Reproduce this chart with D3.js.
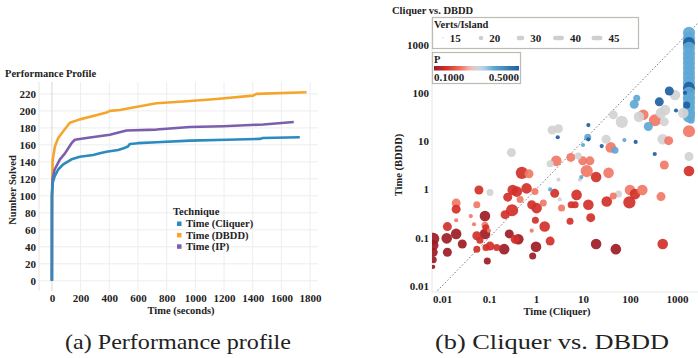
<!DOCTYPE html>
<html>
<head>
<meta charset="utf-8">
<script src="https://cdn.jsdelivr.net/npm/d3@7"></script>
<style>
  body { margin: 0; background: #fff; }
  svg text { font-family: 'Liberation Serif', serif; font-weight: bold; fill: #222; }
</style>
</head>
<body>
<svg id="chart" width="698" height="358"></svg>
<script>
// ---- (a) performance profile data ----
const cliquerTimes  = [0, 0.5, 5, 19, 44, 79, 137, 195, 288, 334, 381, 462, 500, 530, 543, 600, 729, 962, 1220, 1449, 1470, 1728];
const cliquerSolved = [0, 100, 115, 123, 131, 137, 143, 146, 148, 150, 152, 154, 156, 158, 161, 162, 163, 165, 166, 167, 168, 169];
const dbddTimes  = [0, 0.5, 5, 21, 44, 79, 125, 195, 288, 381, 404, 474, 567, 729, 915, 1147, 1403, 1426, 1775];
const dbddSolved = [0, 100, 142, 158, 168, 176, 186, 190, 194, 198, 200, 201, 204, 209, 211, 214, 218, 220, 222];
const ipTimes  = [0, 0.5, 5, 19, 56, 91, 137, 160, 241, 404, 520, 729, 962, 1194, 1473, 1686];
const ipSolved = [0, 100, 120, 131, 143, 150, 162, 166, 168, 172, 177, 178, 181, 182, 184, 187];
const techniques = ['Time (Cliquer)', 'Time (DBDD)', 'Time (IP)'];
const techColors = ['#2b8ac0', '#f6a52c', '#7b5fae'];
const profTicksX = [0, 200, 400, 600, 800, 1000, 1200, 1400, 1600, 1800];
const profTicksY = [0, 20, 40, 60, 80, 100, 120, 140, 160, 180, 200, 220];

// ---- (b) scatter data: Cliquer time, DBDD time, P, verts/island ----
const cliquerTime = [
  0.50, 0.71, 12, 35, 19, 1800, 0.061, 0.105, 0.25, 0.32,
  0.39, 0.63, 0.95, 2.0, 2.5, 3.0, 8.6, 9.2, 7.3, 3.2,
  0.46, 0.020, 0.020, 0.055, 0.81, 1.03, 1.43, 0.31, 0.22, 0.082,
  0.041, 0.020, 0.048, 0.082, 0.013, 0.086, 0.020, 0.0126, 0.027, 0.0065,
  0.013, 0.055, 0.064, 0.082, 0.10, 0.27, 0.42, 0.36, 0.055, 0.086,
  0.105, 0.146, 0.21, 0.092, 0.85, 1.0, 0.81, 0.97, 1.53, 2.0,
  3.5, 5.3, 5.6, 6.8, 13, 14.6, 19, 50, 32, 57,
  100, 128, 183, 97, 457, 497, 0.0065, 0.0065, 0.0065, 0.0065,
  0.30, 2.2, 3.0, 2.9, 2.7, 2.0, 5.5, 9.9, 14, 10,
  12.6, 13, 25, 31, 39, 48, 44, 67, 76, 132,
  192, 139, 123, 245, 340, 420, 457, 556, 537, 497,
  665, 336, 537, 686, 906, 952, 1480, 1360, 1800, 1800,
  1800, 1800, 1610, 2000, 155, 44, 13, 7.9,
  1800, 1800, 1800, 1800, 1800, 1800, 1800, 1800, 1800,
  1800, 1800, 1800, 1800, 1800, 1800, 1800, 1800, 1800
];
const dbddTime = [
  2.2, 2.1, 2.4, 2.2, 1.8, 2.4, 0.97, 0.86, 0.69, 0.97,
  0.90, 1.05, 0.90, 1.0, 0.83, 1.6, 1.6, 1.8, 0.77, 0.62,
  0.62, 0.52, 0.39, 0.48, 0.48, 0.41, 0.52, 0.37, 0.30, 0.28,
  0.28, 0.23, 0.19, 0.18, 0.17, 0.16, 0.12, 0.097, 0.074, 0.095,
  0.050, 0.11, 0.089, 0.12, 0.14, 0.12, 0.093, 0.093, 0.058, 0.063,
  0.067, 0.063, 0.058, 0.033, 0.042, 0.065, 0.14, 0.23, 0.17, 0.085,
  0.41, 0.22, 0.48, 0.48, 0.48, 0.26, 0.074, 0.058, 0.56, 0.80,
  0.97, 0.80, 0.97, 0.54, 0.71, 0.074, 0.07, 0.05, 0.035, 0.025,
  5.8, 17, 18, 12, 3.9, 3.4, 4.6, 3.9, 3.9, 8.3,
  12, 21.5, 7.9, 10.9, 7.4, 6.5, 35, 25, 10.5, 9.6,
  35, 77, 58, 20, 27, 65, 38, 44, 25, 10.9,
  10.2, 5.4, 3.2, 109, 90, 43, 100, 38, 39, 81,
  16, 4.8, 56, 27, 32, 0.73, 10.9, 4.9,
  1740, 1350, 1070, 850, 660, 525, 415, 325, 257,
  204, 160, 126, 100, 78, 62, 49, 38, 32
];
const pValue = [
  0.16, 0.23, 0.23, 0.23, 0.16, 0.16, 0.16, 0.30, 0.16, 0.16,
  0.16, 0.16, 0.23, 0.38, 0.16, 0.30, 0.30, 0.38, 0.16, 0.30,
  0.23, 0.23, 0.16, 0.23, 0.16, 0.16, 0.23, 0.16, 0.16, 0.10,
  0.23, 0.23, 0.23, 0.23, 0.16, 0.16, 0.10, 0.10, 0.10, 0.10,
  0.10, 0.16, 0.16, 0.10, 0.23, 0.10, 0.10, 0.16, 0.16, 0.16,
  0.16, 0.16, 0.10, 0.10, 0.10, 0.10, 0.23, 0.16, 0.16, 0.16,
  0.23, 0.16, 0.16, 0.16, 0.16, 0.16, 0.10, 0.10, 0.16, 0.30,
  0.23, 0.16, 0.23, 0.16, 0.23, 0.16, 0.10, 0.10, 0.10, 0.10,
  0.30, 0.30, 0.30, 0.50, 0.23, 0.30, 0.23, 0.23, 0.23, 0.38,
  0.38, 0.50, 0.50, 0.30, 0.23, 0.38, 0.30, 0.30, 0.38, 0.50,
  0.23, 0.38, 0.38, 0.38, 0.23, 0.50, 0.30, 0.30, 0.30, 0.30,
  0.23, 0.50, 0.23, 0.50, 0.30, 0.50, 0.50, 0.30, 0.30, 0.30,
  0.23, 0.30, 0.50, 0.38, 0.30, 0.23, 0.50, 0.30,
  0.38, 0.38, 0.50, 0.38, 0.38, 0.38, 0.38, 0.38, 0.38,
  0.38, 0.38, 0.50, 0.38, 0.38, 0.38, 0.38, 0.38, 0.38
];
const vertsPerIsland = [
  45, 30, 45, 40, 40, 40, 30, 20, 30, 40,
  40, 40, 20, 15, 30, 15, 15, 15, 40, 15,
  20, 30, 30, 20, 30, 40, 20, 45, 30, 40,
  15, 15, 15, 20, 30, 20, 40, 40, 30, 45,
  30, 30, 20, 40, 15, 30, 40, 30, 20, 20,
  30, 20, 40, 20, 20, 40, 15, 20, 40, 30,
  20, 20, 20, 20, 40, 30, 40, 40, 40, 20,
  40, 40, 40, 45, 30, 40, 40, 30, 20, 15,
  30, 30, 30, 15, 40, 20, 30, 30, 30, 15,
  20, 15, 15, 30, 40, 20, 30, 45, 15, 15,
  40, 20, 30, 30, 45, 30, 40, 40, 30, 40,
  30, 15, 30, 30, 40, 15, 15, 40, 45, 45,
  45, 30, 20, 20, 40, 20, 15, 20,
  45, 45, 45, 45, 45, 45, 45, 45, 45,
  45, 45, 45, 45, 45, 45, 45, 45, 45
];
const vertsLegend = [15, 20, 30, 40, 45];
const logTicks = [0.01, 0.1, 1, 10, 100, 1000];
const logTickLabels = ['0.01', '0.1', '1', '10', '100', '1000'];

const svg = d3.select('#chart');
const tickFont = '11px';
const labelFont = '10.5px';

// ================= (a) Performance profile =================
const px = d3.scaleLinear().domain([-90, 1855]).range([39, 318]);
const py = d3.scaleLinear().domain([-12, 234]).range([291, 82]);

const left = svg.append('g');

// grid
left.append('g').selectAll('line').data(profTicksY).join('line')
  .attr('x1', 39).attr('x2', 318)
  .attr('y1', d => py(d)).attr('y2', d => py(d))
  .attr('stroke', '#ededed').attr('stroke-width', 1);
left.append('g').selectAll('line').data(profTicksX).join('line')
  .attr('y1', 82).attr('y2', 291)
  .attr('x1', d => px(d)).attr('x2', d => px(d))
  .attr('stroke', d => d === 0 ? '#d8d8d8' : '#ededed').attr('stroke-width', 1);
left.append('line').attr('x1', 39).attr('x2', 39).attr('y1', 82).attr('y2', 291)
  .attr('stroke', '#e4e4e4');

// axes (labels only)
const axX = left.append('g').attr('transform', 'translate(0,291)')
  .call(d3.axisBottom(px).tickValues(profTicksX).tickFormat(d3.format('d')).tickSize(0).tickPadding(3));
const axY = left.append('g').attr('transform', 'translate(39,0)')
  .call(d3.axisLeft(py).tickValues(profTicksY).tickSize(0).tickPadding(3));
[axX, axY].forEach(a => {
  a.select('.domain').remove();
  a.selectAll('text').style('font-size', tickFont).style('font-family', "'Liberation Serif', serif")
    .style('font-weight', 'bold').attr('fill', '#222');
});

// curves
const series = [
  { name: techniques[1], t: dbddTimes, n: dbddSolved, color: techColors[1] },
  { name: techniques[2], t: ipTimes, n: ipSolved, color: techColors[2] },
  { name: techniques[0], t: cliquerTimes, n: cliquerSolved, color: techColors[0] }
];
const line = d3.line().x(d => px(d[0])).y(d => py(d[1]));
left.append('g').selectAll('path').data(series).join('path')
  .attr('d', s => line(s.t.map((t, i) => [t, s.n[i]])))
  .attr('fill', 'none')
  .attr('stroke', s => s.color)
  .attr('stroke-width', 2.6)
  .attr('stroke-linejoin', 'round');

// titles
left.append('text').attr('x', 5).attr('y', 77).style('font-size', labelFont).text('Performance Profile');
left.append('text').attr('x', 181).attr('y', 314).attr('text-anchor', 'middle')
  .style('font-size', labelFont).text('Time (seconds)');
left.append('text').attr('transform', 'translate(16,190) rotate(-90)').attr('text-anchor', 'middle')
  .style('font-size', labelFont).text('Number Solved');

// legend
const lg = left.append('g').attr('transform', 'translate(173,215)');
lg.append('text').attr('x', 0).attr('y', 0).style('font-size', labelFont).text('Technique');
const lgItem = lg.selectAll('g.item').data(techniques).join('g')
  .attr('class', 'item')
  .attr('transform', (d, i) => `translate(0,${8.5 + i * 11.4})`);
lgItem.append('rect').attr('x', 4).attr('y', -2).attr('width', 4.5).attr('height', 4.5)
  .attr('fill', (d, i) => techColors[i]);
lgItem.append('text').attr('x', 13).attr('y', 3.8).style('font-size', labelFont).text(d => d);

// ================= (b) Cliquer vs. DBDD =================
const sx = d3.scaleLog().domain([Math.pow(10, -2.213), Math.pow(10, 3.447)]).range([432, 698]);
const sy = d3.scaleLog().domain([Math.pow(10, -2.124), Math.pow(10, 3.569)]).range([292, 17]);
const color = d3.scaleLinear()
  .domain([0.10, 0.16, 0.23, 0.27, 0.30, 0.33, 0.38, 0.50])
  .range(['#9c1b25', '#d2302a', '#f17766', '#f2beb6', '#d2d2d2', '#b7d6ea', '#5fa7d5', '#1f5f9e'])
  .clamp(true);
const rScale = d3.scaleLinear().domain([15, 20, 30, 40, 45]).range([2.1, 3.5, 4.5, 5.3, 6.1]);

const right = svg.append('g');
right.append('clipPath').attr('id', 'plotClip').append('rect')
  .attr('x', 432).attr('y', 17).attr('width', 266).attr('height', 275);

right.append('line').attr('x1', 432).attr('x2', 432).attr('y1', 17).attr('y2', 292).attr('stroke', '#e6e6e6');
right.append('line').attr('x1', 432).attr('x2', 698).attr('y1', 292).attr('y2', 292).attr('stroke', '#e6e6e6');

const rX = right.append('g').attr('transform', 'translate(0,292)')
  .call(d3.axisBottom(sx).tickValues(logTicks).tickFormat((d, i) => logTickLabels[i]).tickSize(0).tickPadding(3));
const rY = right.append('g').attr('transform', 'translate(432,0)')
  .call(d3.axisLeft(sy).tickValues(logTicks).tickFormat((d, i) => logTickLabels[i]).tickSize(0).tickPadding(3));
[rX, rY].forEach(a => {
  a.select('.domain').remove();
  a.selectAll('text').style('font-size', tickFont).style('font-family', "'Liberation Serif', serif")
    .style('font-weight', 'bold').attr('fill', '#222');
});

// diagonal y = x
const dMin = Math.pow(10, -2.2), dMax = Math.pow(10, 3.6);
right.append('line').attr('clip-path', 'url(#plotClip)')
  .attr('x1', sx(dMin)).attr('y1', sy(dMin)).attr('x2', sx(dMax)).attr('y2', sy(dMax))
  .attr('stroke', '#555').attr('stroke-width', 0.8).attr('stroke-dasharray', '1.5,2');

const pts = cliquerTime.map((x, i) => ({ x, y: dbddTime[i], p: pValue[i], v: vertsPerIsland[i] }))
  .sort((a, b) => b.v - a.v);
right.append('g').attr('clip-path', 'url(#plotClip)')
  .selectAll('circle').data(pts).join('circle')
  .attr('cx', d => sx(d.x)).attr('cy', d => sy(d.y)).attr('r', d => rScale(d.v))
  .attr('fill', d => color(d.p)).attr('fill-opacity', 0.92);

right.append('text').attr('x', 392).attr('y', 14).style('font-size', labelFont).text('Cliquer vs. DBDD');
right.append('text').attr('x', 557).attr('y', 315).attr('text-anchor', 'middle')
  .style('font-size', labelFont).text('Time (Cliquer)');
right.append('text').attr('transform', 'translate(402,165) rotate(-90)').attr('text-anchor', 'middle')
  .style('font-size', labelFont).text('Time (BDDD)');

// size legend
const sl = right.append('g');
sl.append('rect').attr('x', 432.5).attr('y', 17.5).attr('width', 206).attr('height', 31)
  .attr('fill', '#fff').attr('stroke', '#bdbbb2').attr('stroke-width', 1.2);
sl.append('text').attr('x', 434).attr('y', 28).style('font-size', labelFont).text('Verts/Island');
const slX = [443, 481, 520.5, 558.5, 597];
const slW = [1.5, 4.6, 7.7, 11, 11];
const slItem = sl.selectAll('g.sz').data(vertsLegend).join('g').attr('class', 'sz')
  .attr('transform', (d, i) => `translate(${slX[i]},38)`);
slItem.append('rect')
  .attr('x', (d, i) => -slW[i] / 2).attr('y', (d, i) => -Math.min(slW[i], 4.6) / 2)
  .attr('width', (d, i) => slW[i]).attr('height', (d, i) => Math.min(slW[i], 4.6))
  .attr('rx', (d, i) => Math.min(slW[i], 4.6) / 2)
  .attr('fill', '#cfcfcf');
slItem.append('text').attr('x', (d, i) => slW[i] / 2 + 6).attr('y', 3.8)
  .style('font-size', tickFont).text(d => d);

// color legend
const cl = right.append('g');
cl.append('rect').attr('x', 432.5).attr('y', 52.5).attr('width', 88).attr('height', 31)
  .attr('fill', '#fff').attr('stroke', '#bdbbb2').attr('stroke-width', 1.2);
cl.append('text').attr('x', 434).attr('y', 63).style('font-size', labelFont).text('P');
const grad = svg.append('defs').append('linearGradient').attr('id', 'pGrad');
d3.range(0, 1.0001, 0.05).forEach(f => {
  grad.append('stop').attr('offset', f).attr('stop-color', color(0.1 + f * 0.4));
});
cl.append('rect').attr('x', 434).attr('y', 66).attr('width', 85).attr('height', 4.5).attr('fill', 'url(#pGrad)');
cl.append('text').attr('x', 434).attr('y', 80.5).style('font-size', tickFont).text('0.1000');
cl.append('text').attr('x', 519).attr('y', 80.5).attr('text-anchor', 'end').style('font-size', tickFont).text('0.5000');

// captions
svg.append('text').attr('x', 178).attr('y', 349).attr('text-anchor', 'middle')
  .attr('textLength', 226).attr('lengthAdjust', 'spacingAndGlyphs')
  .style('font-size', '22px').style('font-weight', 'normal').text('(a) Performance profile');
svg.append('text').attr('x', 552).attr('y', 349).attr('text-anchor', 'middle')
  .attr('textLength', 234).attr('lengthAdjust', 'spacingAndGlyphs')
  .style('font-size', '22px').style('font-weight', 'normal').text('(b) Cliquer vs. DBDD');
</script>
</body>
</html>
